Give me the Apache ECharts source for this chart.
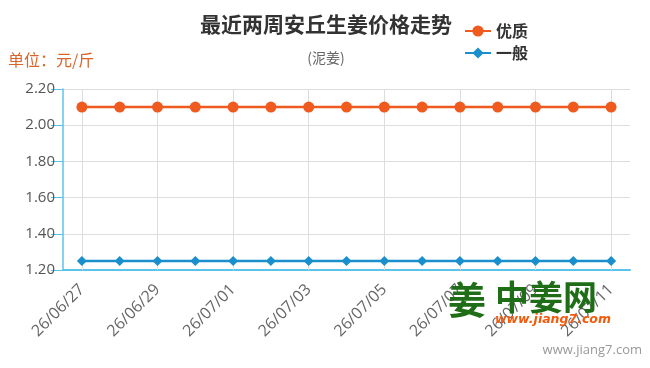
<!DOCTYPE html>
<html><head><meta charset="utf-8">
<script src="https://cdn.jsdelivr.net/npm/echarts@6/dist/echarts.min.js"></script>
<style>html,body{margin:0;padding:0;background:#fff}#c{width:650px;height:368px}</style>
</head><body><div id="c"></div>
<script>
const categories = ['26/06/27','26/06/28','26/06/29','26/06/30','26/07/01','26/07/02','26/07/03','26/07/04','26/07/05','26/07/06','26/07/07','26/07/08','26/07/09','26/07/10','26/07/11'];
const premium = [2.10,2.10,2.10,2.10,2.10,2.10,2.10,2.10,2.10,2.10,2.10,2.10,2.10,2.10,2.10];
const ordinary = [1.25,1.25,1.25,1.25,1.25,1.25,1.25,1.25,1.25,1.25,1.25,1.25,1.25,1.25,1.25];
const seriesNames = ['优质','一般'];
const yTicks = [1.2, 1.4, 1.6, 1.8, 2.0, 2.2];

const chart = echarts.init(document.getElementById('c'));
const axisBlue = '#5cc3ea';
const gridCats = categories.filter((c, i) => i % 2 === 0);
chart.setOption({
  animation: false,
  title: {
    text: '最近两周安丘生姜价格走势',
    subtext: '(泥姜)',
    left: 321, top: 9, textAlign: 'center',
    textStyle: {fontFamily: 'Noto Sans CJK SC', fontSize: 21, fontWeight: 'bold', color: '#333'},
    subtextStyle: {fontFamily: 'Noto Sans CJK SC', fontSize: 14, color: '#666'},
    itemGap: 16
  },
  legend: {
    orient: 'vertical', left: 459, top: 18, itemGap: 6, itemWidth: 26, itemHeight: 14,
    data: seriesNames,
    textStyle: {fontFamily: 'Noto Sans CJK SC', fontSize: 16, fontWeight: 'bold', color: '#333'}
  },
  graphic: [
    {type: 'text', left: 8, top: 52, style: {text: '单位：元/斤', font: '16px "Noto Sans CJK SC"', fill: '#d9642a'}},
    {type: 'text', left: 448, top: 281, z: 100, style: {text: '姜', font: 'bold 38px "Noto Sans CJK SC"', fill: '#1f6e17'}},
    {type: 'text', left: 495, top: 280, z: 100, style: {text: '中姜网', font: 'bold 34px "Noto Sans CJK SC"', fill: '#1f6e17'}},
    {type: 'text', left: 495, top: 313, z: 100, style: {text: 'www.jiang7.com', font: 'italic bold 12.5px "DejaVu Sans"', fill: '#f25a0c'}},
    {type: 'text', right: 8, top: 344, style: {text: 'www.jiang7.com', font: '13px "Open Sans"', fill: '#999'}}
  ],
  grid: {left: 63, right: 20, top: 89, bottom: 98},
  xAxis: {
    type: 'category', data: categories, boundaryGap: true,
    axisLine: {lineStyle: {color: axisBlue, width: 2}},
    axisTick: {interval: 1, alignWithLabel: true, length: 13, lineStyle: {color: axisBlue}},
    axisLabel: {interval: 1, rotate: 45, margin: 17, color: '#666', fontSize: 16, fontFamily: 'Open Sans'},
    splitLine: {show: false}
  },
  yAxis: {
    type: 'value', min: yTicks[0], max: yTicks[yTicks.length - 1], interval: 0.2,
    axisLine: {show: true, lineStyle: {color: axisBlue, width: 1.5}},
    axisTick: {show: true, length: 12, lineStyle: {color: axisBlue}},
    axisLabel: {margin: 8, color: '#555', fontSize: 15, fontFamily: 'Open Sans', formatter: v => v.toFixed(2)},
    splitLine: {lineStyle: {color: '#ddd'}}
  },
  series: [
    {name: seriesNames[0], type: 'line', data: premium, symbol: 'circle', symbolSize: 11, z: 3,
     itemStyle: {color: '#ef5a1f'}, lineStyle: {width: 2.5, color: '#ef5a1f'},
     markLine: {silent: true, symbol: 'none', label: {show: false}, z: 1,
       lineStyle: {color: '#ddd', type: 'solid', width: 1},
       data: gridCats.map(c => ({xAxis: c}))}},
    {name: seriesNames[1], type: 'line', data: ordinary, symbol: 'diamond', symbolSize: 10, z: 3,
     itemStyle: {color: '#1b8fcc'}, lineStyle: {width: 2.5, color: '#1b8fcc'}}
  ]
});
</script></body></html>
